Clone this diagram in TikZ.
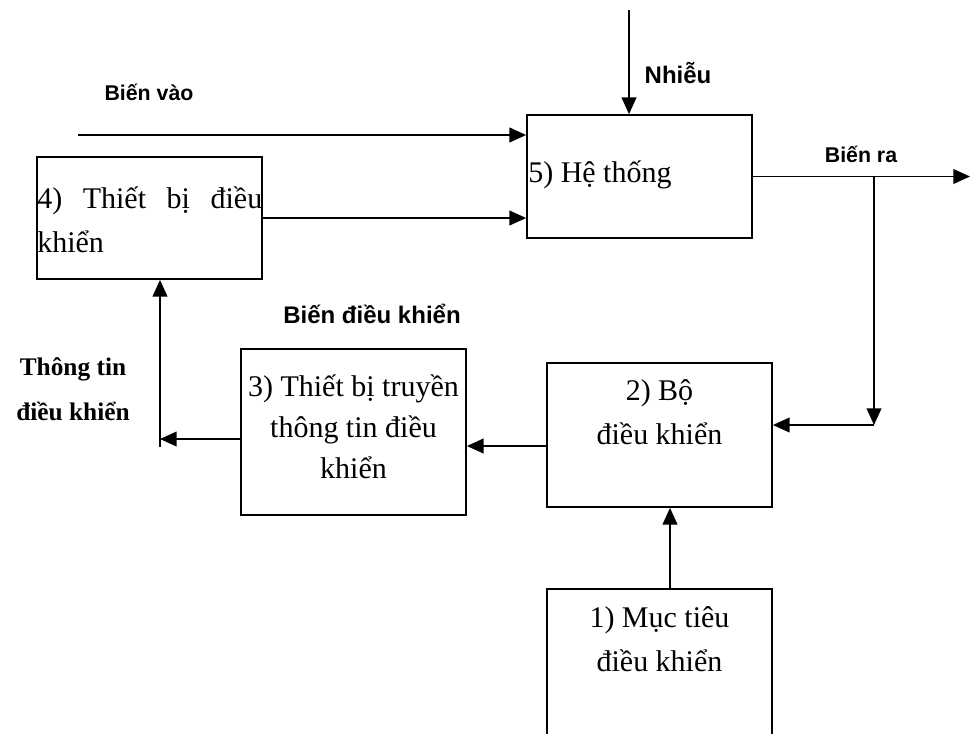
\documentclass[tikz,border=0pt]{standalone}
\usepackage{fontspec}
\setmainfont{Liberation Serif}
\newfontfamily\lsans{Liberation Sans}
\usetikzlibrary{arrows.meta,calc}
\tikzset{
  blk/.style={draw, line width=1.3pt, inner sep=0pt, minimum width=168.75pt},
  arr/.style={line width=1.3pt, -{Triangle[length=12.5pt,width=11pt]}},
  txt/.style={inner sep=0pt},
  body/.style={font=\fontsize{22.5}{33.5}\selectfont},
  lbl/.style={font=\lsans\bfseries\fontsize{16}{19}\selectfont},
  lblb/.style={font=\lsans\bfseries\fontsize{18}{21}\selectfont},
}
\begin{document}
\begin{tikzpicture}[x=0.75pt,y=-0.75pt]
\clip (0,0) rectangle (970,733);
% boxes
\node[blk, minimum height=92.25pt] (box5) at (639.5,176.5) {};
\node[blk, minimum height=91.5pt] (box4) at (149.5,218) {};
\node[blk, minimum height=124.5pt] (box3) at (353.5,432) {};
\node[blk, minimum height=108pt] (box2) at (659.5,435) {};
\node[blk, minimum height=150pt] (box1) at (659.5,689) {};
% box texts
\node[txt, body, anchor=base west] (t5) at (528,182) {5) Hệ thống};
\node[txt, body, anchor=base west] (t4) at (37,208) {\parbox[t]{168.75pt}{4)\hfill Thiết\hfill bị\hfill điều\\khiển}};
\node[txt, body, anchor=base] (t3) at (353.5,396) {\parbox[t]{168.75pt}{\fontsize{22.5}{31}\selectfont\centering 3) Thiết bị truyền\\thông tin điều\\khiển}};
\node[txt, body, anchor=base] (t2) at (659.5,400) {\parbox[t]{168.75pt}{\centering 2) Bộ\\điều khiển}};
\node[txt, body, anchor=base] (t1) at (659.5,627) {\parbox[t]{168.75pt}{\centering 1) Mục tiêu\\điều khiển}};
\node[txt, font=\bfseries\fontsize{19}{33.75}\selectfont, anchor=base] (tinfo) at (73,375) {\parbox[t]{120pt}{\centering Thông tin\\điều khiển}};
% labels
\node[txt, lbl, anchor=base] (lvao) at (149,100) {Biến vào};
\node[txt, lblb, anchor=base] (lnhieu) at (678,83) {Nhiễu};
\node[txt, lbl, anchor=base] (lra) at (861,162) {Biến ra};
\node[txt, lblb, anchor=base] (ldk) at (372,323) {Biến điều khiển};
% free ends
\coordinate (ntop) at (629,10);
\coordinate (vin) at (78,135);
\coordinate (outend) at (970,176.5);
\coordinate (br) at (874,176.5);
\coordinate (brc) at (874,425);
\coordinate (vb) at (160,447);
% connectors
\draw[arr] (ntop) -- (ntop |- box5.north);
\draw[arr] (vin) -- (vin -| box5.west);
\draw[arr] (box4.east) -- (box4.east -| box5.west);
\draw[arr] (box5.east) -- (outend);
\draw[arr] (br) -- (brc);
\draw[arr] (brc) -- (brc -| box2.east);
\draw[arr] ($(box2.west)+(0,11)$) coordinate (a2) -- (a2 -| box3.east);
\draw[arr] ($(box3.west)+(0,7)$) coordinate (a3) -- (a3 -| vb);
\draw[arr] (vb) -- (vb |- box4.south);
\draw[arr] ($(box1.north)+(10.5,0)$) coordinate (a1) -- (a1 |- box2.south);
\end{tikzpicture}
\end{document}
